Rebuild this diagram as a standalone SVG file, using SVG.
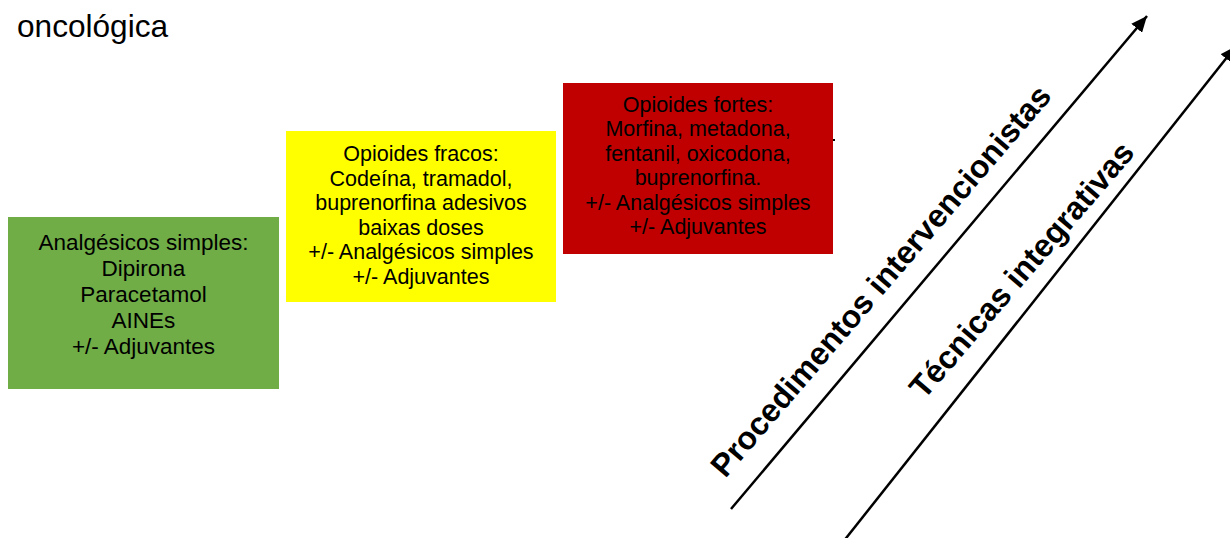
<svg xmlns="http://www.w3.org/2000/svg" width="1230" height="538" viewBox="0 0 1230 538">
<style>
.t{font-family:"Liberation Sans",Arial,sans-serif;fill:#000;}
.box{font-size:21.5px;text-anchor:middle;}
.big{font-size:22.5px;}
.rot{font-size:32px;font-weight:bold;text-anchor:middle;}
.ln{stroke:#000;stroke-width:2.5;fill:none;marker-end:url(#ah);}
</style>
<defs>
<marker id="ah" markerUnits="userSpaceOnUse" markerWidth="18" markerHeight="14" refX="16" refY="7" orient="auto">
<path d="M0,0 L16,7 L0,14 Z" fill="#000"/>
</marker>
</defs>
<rect width="1230" height="538" fill="#fff"/>
<text class="t" x="17" y="37" font-size="31.6">oncológica</text>
<g id="step1">
<rect x="8" y="217" width="271" height="172" fill="#70AD47"/>
<text class="t box big" x="143.5" y="249.5">Analgésicos simples:<tspan x="143.5" dy="26">Dipirona</tspan><tspan x="143.5" dy="26">Paracetamol</tspan><tspan x="143.5" dy="26">AINEs</tspan><tspan x="143.5" dy="26">+/- Adjuvantes</tspan></text>
</g>
<g id="step2">
<rect x="286" y="131" width="270" height="171" fill="#FFFF00"/>
<text class="t box" x="421" y="161">Opioides fracos:<tspan x="421" dy="24.5">Codeína, tramadol,</tspan><tspan x="421" dy="24.5">buprenorfina adesivos</tspan><tspan x="421" dy="24.5">baixas doses</tspan><tspan x="421" dy="24.5">+/- Analgésicos simples</tspan><tspan x="421" dy="24.5">+/- Adjuvantes</tspan></text>
</g>
<g id="step3">
<rect x="563" y="83" width="270" height="171" fill="#C00000"/>
<rect x="833" y="139" width="2" height="2" fill="#000"/>
<text class="t box" x="698" y="112">Opioides fortes:<tspan x="698" dy="24.4">Morfina, metadona,</tspan><tspan x="698" dy="24.4">fentanil, oxicodona,</tspan><tspan x="698" dy="24.4">buprenorfina.</tspan><tspan x="698" dy="24.4">+/- Analgésicos simples</tspan><tspan x="698" dy="24.4">+/- Adjuvantes</tspan></text>
</g>
<g id="connectors">
<line class="ln" x1="731" y1="509" x2="1147" y2="16"/>
<line class="ln" x1="843" y1="542" x2="1236" y2="46"/>
</g>
<g id="label1">
<text class="t rot" transform="translate(889,288) rotate(-49.4)">Procedimentos intervencionistas</text>
</g>
<g id="label2">
<text class="t rot" transform="translate(1030,277) rotate(-49.4)">Técnicas integrativas</text>
</g>
</svg>
